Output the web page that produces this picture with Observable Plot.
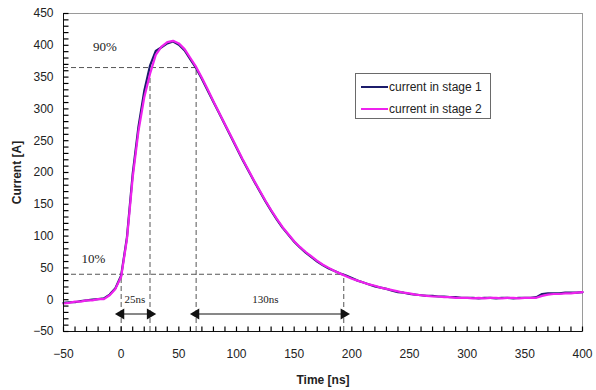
<!DOCTYPE html>
<html><head><meta charset="utf-8">
<script src="https://cdn.jsdelivr.net/npm/d3@7"></script>
<script src="https://cdn.jsdelivr.net/npm/@observablehq/plot@0.6"></script>
<style>
body{margin:0;background:#fff;}
#wrap{position:relative;width:596px;height:390px;}
#legend{position:absolute;left:355px;top:73px;width:134px;height:44px;border:1px solid #6a6a6a;background:#fff;font:12px "Liberation Sans",Arial,sans-serif;color:#222;}
#legend div{position:absolute;left:0;height:14px;line-height:14px;white-space:nowrap;}
#legend span.sw{display:inline-block;width:27px;height:2px;vertical-align:middle;margin:0 1px 0 5px;position:relative;top:-1px;}
</style></head>
<body><div id="wrap"></div>
<script>
const time = [-50,-45,-40,-35,-30,-25,-20,-15,-10,-5,0,5,10,15,20,25,30,35,40,45,50,55,60,65,70,75,80,85,90,95,100,105,110,115,120,125,130,135,140,145,150,155,160,165,170,175,180,185,190,195,200,205,210,215,220,225,230,235,240,245,250,255,260,265,270,275,280,285,290,295,300,305,310,315,320,325,330,335,340,345,350,355,360,365,370,375,380,385,390,395,400];
const stage1 = [-5,-4,-4,-2,-1,0,1,2,8,18,38,98,198,272,328,368,391,397,403,406,401,392,378,364,347,329,311,293,275,257,239,221,204,187,171,155,140,126,113,102,91,82,74,67,60,54,49,45,41,38,34,30,27,24,21,19,17,14,12,11,9,8,7,6,6,5,5,4,4,3,3,3,2,3,3,2,3,3,2,3,3,3,4,9,10,10,10,11,11,11,12];
const stage2 = [-6,-5,-3,-3,-1,-1,1,1,7,17,36,95,192,265,318,355,385,398,405,407,403,394,380,366,349,331,312,294,276,258,240,222,205,188,172,156,141,127,114,103,92,83,75,68,61,55,50,45,41,37,33,30,27,24,22,19,17,15,13,11,10,8,7,6,5,5,4,4,3,3,3,2,3,2,3,3,2,3,3,2,3,3,3,6,8,9,9,10,10,11,12];
const seriesNames = ["current in stage 1","current in stage 2"];
const seriesColors = ["#1c1c6b","#ee22ee"];
const xTicks = [-50,0,50,100,150,200,250,300,350,400];
const yTicks = [-50,0,50,100,150,200,250,300,350,400,450];
const xDomain = [-50,400];
const yDomain = [-50,450];
// threshold annotations (10% / 90%)
const thresholds = [
  {pct:"10%", level:40, t1:0, t2:193, labelT:-24, labelLevel:64},
  {pct:"90%", level:365, t1:25, t2:65, labelT:-14, labelLevel:398}
];
// duration spans
const spans = [
  {label:"25ns", t1:0, t2:25, labelT:12, labelLevel:0},
  {label:"130ns", t1:65, t2:193, labelT:125, labelLevel:0}
];
const arrowLevel = -22.5;

const rows = [];
time.forEach((t,i)=>{ rows.push({t, v:stage1[i], s:seriesNames[0]}); });
time.forEach((t,i)=>{ rows.push({t, v:stage2[i], s:seriesNames[1]}); });
const minorX = d3.range(xDomain[0], xDomain[1]+1, 10);
const minorY = d3.range(yDomain[0], yDomain[1]+1, 10);

const heads = [];
spans.forEach(s=>{ heads.push({t:s.t1, dir:-90}); heads.push({t:s.t2, dir:90}); });

const tickUp = {draw(ctx){ ctx.moveTo(0,0); ctx.lineTo(0,-5); }};
const tickRight = {draw(ctx){ ctx.moveTo(0,0); ctx.lineTo(5,0); }};

const chart = Plot.plot({
  width:596, height:390,
  marginLeft:63, marginRight:14, marginTop:13, marginBottom:59,
  style:{fontFamily:'"Liberation Sans", Arial, sans-serif', fontSize:"12px", color:"#222", background:"#fff"},
  x:{domain:xDomain},
  y:{domain:yDomain},
  color:{domain:seriesNames, range:seriesColors},
  marks:[
    Plot.frame({stroke:"#9a9a9a"}),
    // dashed threshold lines
    Plot.ruleY(thresholds, {y:"level", x1:xDomain[0], x2:"t2", stroke:"#555", strokeDasharray:"5,3", strokeWidth:1}),
    Plot.ruleX(thresholds, {x:"t1", y1:yDomain[0], y2:"level", stroke:"#555", strokeDasharray:"5,3", strokeWidth:1}),
    Plot.ruleX(thresholds, {x:"t2", y1:yDomain[0], y2:"level", stroke:"#555", strokeDasharray:"5,3", strokeWidth:1}),
    Plot.text(thresholds, {x:"labelT", y:"labelLevel", text:"pct", fontFamily:'"Liberation Serif", "Times New Roman", serif', fontSize:13, fill:"#222"}),
    // spans
    Plot.ruleY(spans, {y:arrowLevel, x1:"t1", x2:"t2", stroke:"#111", strokeWidth:1}),
    Plot.dot(heads, {x:"t", y:arrowLevel, symbol:"triangle", rotate:"dir", r:4, fill:"#111", stroke:null}),
    Plot.text(spans, {x:"labelT", y:"labelLevel", text:"label", fontFamily:'"Liberation Serif", "Times New Roman", serif', fontSize:11, fill:"#222"}),
    // curves
    Plot.line(rows, {x:"t", y:"v", z:"s", stroke:"s", strokeWidth:2.2}),
    // axis lines and inward minor ticks
    Plot.ruleX([xDomain[0]], {stroke:"#111"}),
    Plot.ruleY([yDomain[0]], {stroke:"#111"}),
    Plot.dot(minorX, {x:d=>d, y:yDomain[0], symbol:tickUp, r:3, fill:"none", stroke:"#000", strokeWidth:1.2}),
    Plot.dot(minorY, {y:d=>d, x:xDomain[0], symbol:tickRight, r:3, fill:"none", stroke:"#000", strokeWidth:1.2}),
    Plot.axisX(xTicks, {tickSize:0, tickPadding:18, label:"Time [ns]", labelAnchor:"center", labelArrow:"none", labelOffset:52, fontSize:12}),
    Plot.axisY(yTicks, {tickSize:0, tickPadding:10, label:"Current [A]", labelAnchor:"center", labelArrow:"none", labelOffset:51, fontSize:12})
  ]
});
document.getElementById("wrap").appendChild(chart);
chart.querySelectorAll("g[aria-label='x-axis label'] text, g[aria-label='y-axis label'] text").forEach(t=>{t.style.fontWeight="bold";});

const leg = document.createElement("div");
leg.id = "legend";
seriesNames.forEach((n,i)=>{
  const row = document.createElement("div");
  row.style.top = (6 + i*22) + "px";
  row.innerHTML = `<span class="sw" style="background:${seriesColors[i]}"></span>${n}`;
  leg.appendChild(row);
});
document.getElementById("wrap").appendChild(leg);
</script>
</body></html>
